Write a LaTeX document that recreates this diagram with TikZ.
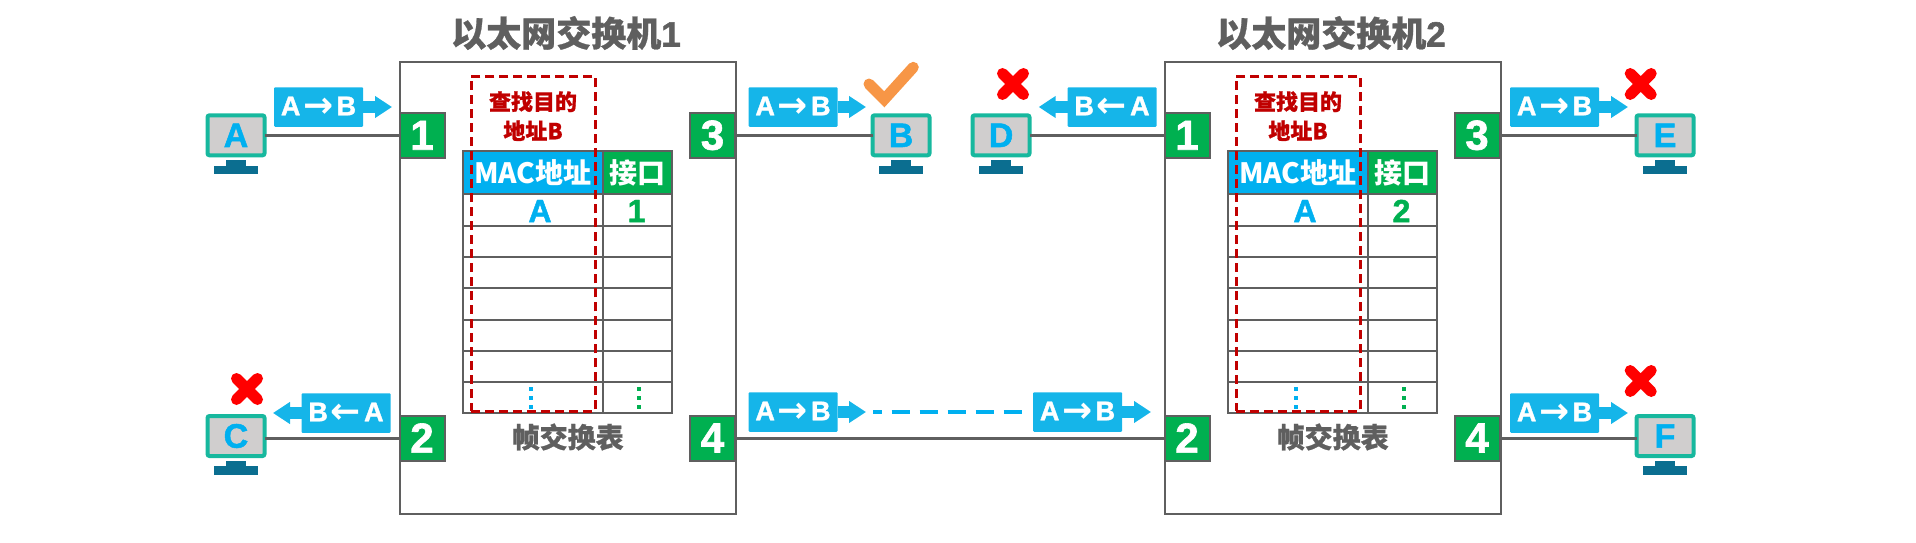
\documentclass[tikz,border=0pt]{standalone}
\usepackage{fontspec}
\setmainfont{Liberation Sans}
\newfontfamily\cjk{Noto Sans CJK SC}
\newfontfamily\cjkheavy{Noto Sans CJK SC}[BoldFeatures={FakeBold=0.8}]
\newfontfamily\heavy{Liberation Sans}[BoldFeatures={FakeBold=1.5}]
\newfontfamily\arrowfont{DejaVu Sans}
\newcommand{\pktr}{\kern3pt{\arrowfont\fontsize{36}{36}\selectfont\raisebox{-2pt}{→}}\kern3pt}
\newcommand{\pktl}{\kern3pt{\arrowfont\fontsize{36}{36}\selectfont\raisebox{-2pt}{←}}\kern3pt}
\usetikzlibrary{arrows.meta,positioning,calc}
\usetikzlibrary{shapes.misc}
\definecolor{wiregray}{HTML}{5F5F5F}
\definecolor{portgreen}{HTML}{00B050}
\definecolor{macblue}{HTML}{00B0F0}
\definecolor{pktblue}{HTML}{15B5E9}
\definecolor{pcteal}{HTML}{17B89E}
\definecolor{pcgray}{HTML}{D0CECE}
\definecolor{pcbase}{HTML}{0B6E90}
\definecolor{findred}{HTML}{C00000}
\definecolor{okorange}{HTML}{F79646}

\begin{document}
\begin{tikzpicture}[x=1pt,y=-1pt,
every node/.style={inner sep=0pt,outer sep=0pt},
switchbox/.style={draw=wiregray,line width=2pt,minimum width=336pt,minimum height=452pt},
port/.style={draw=wiregray,line width=2pt,fill=portgreen,text=white,minimum size=45pt,font=\fontsize{42}{42}\selectfont\heavy\bfseries},
wire/.style={draw=wiregray,line width=3pt},
macbody/.style={draw=wiregray,line width=2pt,minimum width=139.5pt,minimum height=31.3pt},
ifbody/.style={draw=wiregray,line width=2pt,minimum width=69.5pt,minimum height=31.3pt},
machead/.style={macbody,fill=macblue,minimum height=43.3pt,text=white,font=\fontsize{28}{28}\selectfont\cjk\bfseries},
ifhead/.style={ifbody,fill=portgreen,minimum height=43.3pt,text=white,font=\fontsize{28}{28}\selectfont\cjk\bfseries},
cellmac/.style={text=macblue,font=\fontsize{32}{32}\selectfont\heavy\bfseries},
cellif/.style={text=portgreen,font=\fontsize{32}{32}\selectfont\heavy\bfseries},
celldots/.style={line width=4pt,dash pattern=on 4pt off 5pt},
findbox/.style={draw=findred,line width=2.5pt,dash pattern=on 9pt off 5pt,minimum width=124pt,minimum height=335pt},
findtext/.style={text=findred,font=\fontsize{22}{22}\selectfont\cjkheavy\bfseries},
title/.style={text=wiregray,font=\fontsize{35}{35}\selectfont\cjkheavy\bfseries},
tablename/.style={text=wiregray,font=\fontsize{28}{28}\selectfont\cjkheavy\bfseries},
pc/.style={draw=pcteal,line width=4pt,fill=pcgray,rounded corners=2pt,minimum width=57pt,minimum height=40pt,text=macblue,font=\fontsize{34}{34}\selectfont\heavy\bfseries},
pcneck/.style={fill=pcbase,minimum width=20pt,minimum height=6pt},
pcfoot/.style={fill=pcbase,minimum width=44pt,minimum height=8.5pt},
pkt/.style={fill=pktblue,rounded corners=1pt,minimum width=89pt,minimum height=39.5pt,text=white,font=\fontsize{27}{27}\selectfont\heavy\bfseries},
pktarrow/.style={draw=pktblue,line width=12pt,-{Triangle[length=17pt,width=21pt]}},
nogo/.style={cross out,draw=red,line width=11pt,line cap=round,minimum size=21pt}]
\useasboundingbox (0,0) rectangle (1916,543);
% switch 1
\node[switchbox] (S1) at (568,288) {};
\node[title] (S1name) at (566,33) {以太网交换机{\heavy 1}};
\node[machead] (T1a0) at (532.75,172.6) {MAC地址};
\node[ifhead] (T1b0) at (637.25,172.6) {接口};
\node[macbody] (T1a1) at (532.75,210) {};
\node[ifbody] (T1b1) at (637.25,210) {};
\node[macbody] (T1a2) at (532.75,241.3) {};
\node[ifbody] (T1b2) at (637.25,241.3) {};
\node[macbody] (T1a3) at (532.75,272.6) {};
\node[ifbody] (T1b3) at (637.25,272.6) {};
\node[macbody] (T1a4) at (532.75,303.9) {};
\node[ifbody] (T1b4) at (637.25,303.9) {};
\node[macbody] (T1a5) at (532.75,335.2) {};
\node[ifbody] (T1b5) at (637.25,335.2) {};
\node[macbody] (T1a6) at (532.75,366.5) {};
\node[ifbody] (T1b6) at (637.25,366.5) {};
\node[macbody] (T1a7) at (532.75,397.8) {};
\node[ifbody] (T1b7) at (637.25,397.8) {};
\node[cellmac] (T1mac) at (540,211) {A};
\node[cellif] (T1if) at (636.5,211) {1};
\draw[celldots,macblue] (531,387) -- (531,410);
\draw[celldots,portgreen] (639,387) -- (639,410);
\node[findbox] (T1find) at (533.4,243.8) {};
\node[findtext] (T1q1) at (533,101.7) {查找目的};
\node[findtext] (T1q2) at (533,130.7) {地址B};
\node[tablename] (T1name) at (567.7,437) {帧交换表};
\node[port] (S1P1) at (422,135.3) {1};
\node[port] (S1P2) at (422,438) {2};
\node[port] (S1P3) at (712.5,135.3) {3};
\node[port] (S1P4) at (712.5,438) {4};
% switch 2
\node[switchbox] (S2) at (1333,288) {};
\node[title] (S2name) at (1331,33) {以太网交换机{\heavy 2}};
\node[machead] (T2a0) at (1297.75,172.6) {MAC地址};
\node[ifhead] (T2b0) at (1402.25,172.6) {接口};
\node[macbody] (T2a1) at (1297.75,210) {};
\node[ifbody] (T2b1) at (1402.25,210) {};
\node[macbody] (T2a2) at (1297.75,241.3) {};
\node[ifbody] (T2b2) at (1402.25,241.3) {};
\node[macbody] (T2a3) at (1297.75,272.6) {};
\node[ifbody] (T2b3) at (1402.25,272.6) {};
\node[macbody] (T2a4) at (1297.75,303.9) {};
\node[ifbody] (T2b4) at (1402.25,303.9) {};
\node[macbody] (T2a5) at (1297.75,335.2) {};
\node[ifbody] (T2b5) at (1402.25,335.2) {};
\node[macbody] (T2a6) at (1297.75,366.5) {};
\node[ifbody] (T2b6) at (1402.25,366.5) {};
\node[macbody] (T2a7) at (1297.75,397.8) {};
\node[ifbody] (T2b7) at (1402.25,397.8) {};
\node[cellmac] (T2mac) at (1305,211) {A};
\node[cellif] (T2if) at (1401.5,211) {2};
\draw[celldots,macblue] (1296,387) -- (1296,410);
\draw[celldots,portgreen] (1404,387) -- (1404,410);
\node[findbox] (T2find) at (1298.4,243.8) {};
\node[findtext] (T2q1) at (1298,101.7) {查找目的};
\node[findtext] (T2q2) at (1298,130.7) {地址B};
\node[tablename] (T2name) at (1332.7,437) {帧交换表};
\node[port] (S2P1) at (1187,135.3) {1};
\node[port] (S2P2) at (1187,438) {2};
\node[port] (S2P3) at (1477,135.3) {3};
\node[port] (S2P4) at (1477,438) {4};
% hosts
\node[pc] (A) at (236,135.3) {A};
\node[pcneck] (A1) at (236,163) {};
\node[pcfoot] (A2) at (236,170) {};
\node[pc] (C) at (236,436) {C};
\node[pcneck] (C1) at (236,463.7) {};
\node[pcfoot] (C2) at (236,470.7) {};
\node[pc] (B) at (901,135.3) {B};
\node[pcneck] (B1) at (901,163) {};
\node[pcfoot] (B2) at (901,170) {};
\node[pc] (D) at (1001,135.3) {D};
\node[pcneck] (D1) at (1001,163) {};
\node[pcfoot] (D2) at (1001,170) {};
\node[pc] (E) at (1665,135.3) {E};
\node[pcneck] (E1) at (1665,163) {};
\node[pcfoot] (E2) at (1665,170) {};
\node[pc] (F) at (1665,436) {F};
\node[pcneck] (F1) at (1665,463.7) {};
\node[pcfoot] (F2) at (1665,470.7) {};
\draw[wire] (A)--(S1P1);
\draw[wire] (C.east |- S1P2)--(S1P2);
\draw[wire] (S1P3)--(B);
\draw[wire] (S1P4)--(S2P2);
\draw[wire] (D)--(S2P1);
\draw[wire] (S2P3)--(E);
\draw[wire] (S2P4)--(F.west |- S2P4);
% frames
\node[pkt] (P1) at (318.5,107) {A\pktr B};
\coordinate (P1t) at (392,107);
\draw[pktarrow] (P1.east)--(P1t);
\node[pkt] (P2) at (346,413) {B\pktl A};
\coordinate (P2t) at (273,413);
\draw[pktarrow] (P2.west)--(P2t);
\node[pkt] (P3) at (793,107) {A\pktr B};
\coordinate (P3t) at (866,107);
\draw[pktarrow] (P3.east)--(P3t);
\node[pkt] (P4) at (793,412) {A\pktr B};
\coordinate (P4t) at (866,412);
\draw[pktarrow] (P4.east)--(P4t);
\node[pkt] (P5) at (1077.5,412) {A\pktr B};
\coordinate (P5t) at (1151,412);
\draw[pktarrow] (P5.east)--(P5t);
\draw[draw=macblue,line width=4.5pt,dash pattern=on 18.7pt off 9.3pt,dash phase=9.3pt,shorten <=7pt,shorten >=7pt] (P4t)--(P5.west);
\node[pkt] (P6) at (1112,107) {B\pktl A};
\coordinate (P6t) at (1038.7,107);
\draw[pktarrow] (P6.west)--(P6t);
\node[pkt] (P7) at (1554.5,107) {A\pktr B};
\coordinate (P7t) at (1628,107);
\draw[pktarrow] (P7.east)--(P7t);
\node[pkt] (P8) at (1554.5,413) {A\pktr B};
\coordinate (P8t) at (1628,413);
\draw[pktarrow] (P8.east)--(P8t);
% verdicts
\draw[okorange,line width=11pt,line cap=round,line join=miter] (869,84)--(884.3,99.3)--(913.3,67.3);
\node[nogo] (XC) at (247,389) {};
\node[nogo] (XD) at (1013,84) {};
\node[nogo] (XE) at (1640.7,84) {};
\node[nogo] (XF) at (1640.7,381) {};
\end{tikzpicture}
\end{document}
